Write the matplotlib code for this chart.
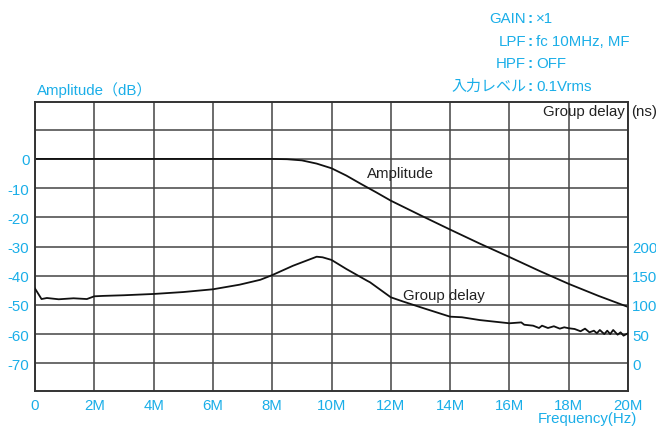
import numpy as np
import matplotlib
matplotlib.use("Agg")
import matplotlib.pyplot as plt

plt.rcParams['font.family'] = ['Liberation Sans', 'Noto Sans CJK JP', 'DejaVu Sans']
plt.rcParams['axes.unicode_minus'] = False

CYAN = '#1aaee8'
FS = 10.8

# Amplitude response (dB) vs frequency (MHz)
amp_freq = [0, 1, 2, 3, 4, 5, 6, 7, 8, 8.5, 9, 9.5, 10, 10.5, 11, 11.5, 12,
            13, 14, 15, 16, 17, 18, 19, 20]
amp_db = [0, 0, 0, 0, 0, 0, 0, 0, 0, -0.1, -0.5, -1.6, -3.2, -5.7, -8.6, -11.4, -14.3,
          -19.3, -24.2, -29.0, -33.6, -38.3, -42.8, -46.9, -50.7]

# Group delay (ns) vs frequency (MHz)
gd_freq = [0, 0.22, 0.4, 0.8, 1.3, 1.75, 2.0, 2.3, 3.0, 4.0, 5.0, 6.0, 6.9, 7.6, 8.0,
           8.7, 9.5, 9.7, 10.0, 10.5, 11.2, 11.3, 12.0, 12.4, 13.0, 14.0, 14.4, 15.0,
           16.0, 16.4, 16.5, 16.8, 17.0, 17.1, 17.3, 17.5, 17.7, 17.85, 18.0, 18.2,
           18.4, 18.55, 18.7, 18.85, 18.95, 19.05, 19.2, 19.3, 19.4, 19.5, 19.65,
           19.75, 19.85, 20.0]
gd_ns = [128, 110, 111.8, 109.6, 111.3, 110, 114.7, 115.4, 116.5, 118.7, 122, 126.7,
         134.6, 143, 151, 167, 182.5, 181.5, 177, 161.5, 141.4, 138.7, 113, 106, 96,
         79.8, 78.8, 74, 68.5, 70, 66, 64.4, 60.4, 64.4, 60.4, 63.4, 59.3, 61.6, 60,
         58.7, 54.8, 59.3, 53, 55.8, 51.4, 57, 50, 55.8, 50, 57, 49, 53, 47.3, 51.4]

x_ticks = [0, 2, 4, 6, 8, 10, 12, 14, 16, 18, 20]
x_labels = ['0', '2M', '4M', '6M', '8M', '10M', '12M', '14M', '16M', '18M', '20M']
db_ticks = [0, -10, -20, -30, -40, -50, -60, -70]
ns_ticks = [0, 50, 100, 150, 200]

# settings block in the top right
info_keys = ['GAIN', 'LPF', 'HPF', '入力レベル']
info_vals = ['×1', 'fc 10MHz, MF', 'OFF', '0.1Vrms']

fig = plt.figure(figsize=(6.56, 4.27), dpi=100)
ax = fig.add_axes([35 / 656, 1 - 392 / 427, 593 / 656, 289 / 427])

ax.plot(amp_freq, amp_db, color='#111111', lw=1.3)
ax.set_xlim(0, 20)
ax.set_ylim(-79.5, 19.5)
ax.set_xticks(x_ticks)
ax.set_xticklabels(x_labels)
ax.set_yticks(db_ticks)
ax.set_yticks([10], minor=True)
ax.grid(True, which='both', color='#444444', lw=1.1)
ax.tick_params(axis='both', which='both', length=0, colors=CYAN, labelsize=FS)
ax.tick_params(axis='y', pad=4)
ax.tick_params(axis='x', pad=5)
for s in ax.spines.values():
    s.set_color('#333333')
    s.set_linewidth(1.4)

# right axis for group delay: 0 ns at -70 dB, 50 ns per 10 dB
ax2 = ax.twinx()
ax2.set_ylim((-79.5 + 70) * 5, (19.5 + 70) * 5)
ax2.plot(gd_freq, gd_ns, color='#111111', lw=1.3)
ax2.set_yticks(ns_ticks)
ax2.tick_params(axis='y', length=0, colors=CYAN, labelsize=FS, pad=3)
for s in ax2.spines.values():
    s.set_visible(False)

fig.text(37 / 656, 1 - 90 / 427, 'Amplitude（dB）', color=CYAN, fontsize=FS,
         ha='left', va='center')
fig.text(625 / 656, 1 - 112 / 427, 'Group delay', color='#222222', fontsize=FS,
         ha='right', va='center')
fig.text(631 / 656, 1 - 112 / 427, '(ns)', color='#222222', fontsize=FS,
         ha='left', va='center')
fig.text(367 / 656, 1 - 174 / 427, 'Amplitude', color='#222222', fontsize=FS,
         ha='left', va='center')
fig.text(403 / 656, 1 - 296 / 427, 'Group delay', color='#222222', fontsize=FS,
         ha='left', va='center')
fig.text(637 / 656, 1 - 419 / 427, 'Frequency(Hz)', color=CYAN, fontsize=FS,
         ha='right', va='center')

rows_y = [19, 42.5, 64, 87]
for key, val, yy in zip(info_keys, info_vals, rows_y):
    fig.text(526 / 656, 1 - yy / 427, key, color=CYAN, fontsize=FS, ha='right', va='center')
    fig.text(530.5 / 656, 1 - yy / 427, ':', color=CYAN, fontsize=FS, fontweight='bold',
             ha='center', va='center')
    fig.text(536 / 656, 1 - yy / 427, val, color=CYAN, fontsize=FS, ha='left', va='center')

fig.savefig('out.png', dpi=100)
